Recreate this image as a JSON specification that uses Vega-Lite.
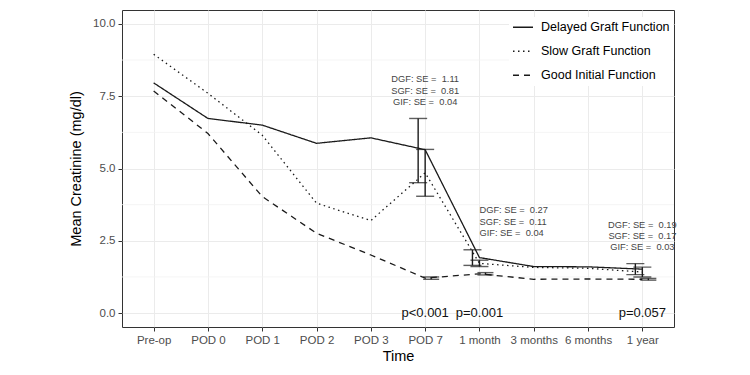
{
  "$schema": "https://vega.github.io/schema/vega-lite/v6.json",
  "width": 552,
  "height": 317,
  "autosize": "none",
  "padding": {"left": 122, "top": 10, "right": 76, "bottom": 48},
  "background": "white",
  "config": {
    "font": "Liberation Sans",
    "view": {"stroke": "#333333", "strokeWidth": 1},
    "axis": {
      "domain": false,
      "gridColor": "#ebebeb",
      "gridWidth": 1,
      "tickColor": "#333333",
      "tickSize": 4,
      "labelColor": "#4d4d4d",
      "labelFontSize": 11.5,
      "labelPadding": 3,
      "titleFontSize": 14.5,
      "titleFontWeight": "normal",
      "titleColor": "#000000"
    }
  },
  "datasets": {
    "means": [
      {"group": "Delayed Graft Function", "time": "Pre-op", "mean": 7.96},
      {"group": "Delayed Graft Function", "time": "POD 0", "mean": 6.73},
      {"group": "Delayed Graft Function", "time": "POD 1", "mean": 6.5},
      {"group": "Delayed Graft Function", "time": "POD 2", "mean": 5.87},
      {"group": "Delayed Graft Function", "time": "POD 3", "mean": 6.06},
      {"group": "Delayed Graft Function", "time": "POD 7", "mean": 5.65},
      {"group": "Delayed Graft Function", "time": "1 month", "mean": 1.92},
      {"group": "Delayed Graft Function", "time": "3 months", "mean": 1.61},
      {"group": "Delayed Graft Function", "time": "6 months", "mean": 1.6},
      {"group": "Delayed Graft Function", "time": "1 year", "mean": 1.52},
      {"group": "Slow Graft Function", "time": "Pre-op", "mean": 8.95},
      {"group": "Slow Graft Function", "time": "POD 0", "mean": 7.6},
      {"group": "Slow Graft Function", "time": "POD 1", "mean": 6.15},
      {"group": "Slow Graft Function", "time": "POD 2", "mean": 3.8},
      {"group": "Slow Graft Function", "time": "POD 3", "mean": 3.2},
      {"group": "Slow Graft Function", "time": "POD 7", "mean": 4.85},
      {"group": "Slow Graft Function", "time": "1 month", "mean": 1.72},
      {"group": "Slow Graft Function", "time": "3 months", "mean": 1.58},
      {"group": "Slow Graft Function", "time": "6 months", "mean": 1.55},
      {"group": "Slow Graft Function", "time": "1 year", "mean": 1.42},
      {"group": "Good Initial Function", "time": "Pre-op", "mean": 7.68},
      {"group": "Good Initial Function", "time": "POD 0", "mean": 6.21},
      {"group": "Good Initial Function", "time": "POD 1", "mean": 4.03},
      {"group": "Good Initial Function", "time": "POD 2", "mean": 2.76},
      {"group": "Good Initial Function", "time": "POD 3", "mean": 2.01},
      {"group": "Good Initial Function", "time": "POD 7", "mean": 1.21},
      {"group": "Good Initial Function", "time": "1 month", "mean": 1.36},
      {"group": "Good Initial Function", "time": "3 months", "mean": 1.17},
      {"group": "Good Initial Function", "time": "6 months", "mean": 1.18},
      {"group": "Good Initial Function", "time": "1 year", "mean": 1.17}
    ],
    "errs": [
      {"group": "DGF", "time": "POD 7", "lo": 4.51, "hi": 6.73},
      {"group": "SGF", "time": "POD 7", "lo": 4.04, "hi": 5.66},
      {"group": "GIF", "time": "POD 7", "lo": 1.17, "hi": 1.25},
      {"group": "DGF", "time": "1 month", "lo": 1.65, "hi": 2.19},
      {"group": "SGF", "time": "1 month", "lo": 1.61, "hi": 1.83},
      {"group": "GIF", "time": "1 month", "lo": 1.32, "hi": 1.4},
      {"group": "DGF", "time": "1 year", "lo": 1.33, "hi": 1.71},
      {"group": "SGF", "time": "1 year", "lo": 1.25, "hi": 1.59},
      {"group": "GIF", "time": "1 year", "lo": 1.14, "hi": 1.2}
    ],
    "se": [
      {"time": "POD 7", "y": 8.09, "label": "DGF: SE = \u00a01.11", "pos": "center"},
      {"time": "POD 7", "y": 7.69, "label": "SGF: SE = \u00a00.81", "pos": "center"},
      {"time": "POD 7", "y": 7.31, "label": "GIF: SE = \u00a00.04", "pos": "center"},
      {"time": "1 month", "y": 3.57, "label": "DGF: SE = \u00a00.27", "pos": "left"},
      {"time": "1 month", "y": 3.16, "label": "SGF: SE = \u00a00.11", "pos": "left"},
      {"time": "1 month", "y": 2.77, "label": "GIF: SE = \u00a00.04", "pos": "left"},
      {"time": "1 year", "y": 3.05, "label": "DGF: SE = \u00a00.19", "pos": "center"},
      {"time": "1 year", "y": 2.67, "label": "SGF: SE = \u00a00.17", "pos": "center"},
      {"time": "1 year", "y": 2.29, "label": "GIF: SE = \u00a00.03", "pos": "center"}
    ],
    "pvals": [
      {"time": "POD 7", "y": 0, "label": "p<0.001"},
      {"time": "1 month", "y": 0, "label": "p=0.001"},
      {"time": "1 year", "y": 0, "label": "p=0.057"}
    ],
    "minor": [
      {"y": 1.25}, {"y": 3.75}, {"y": 6.25}, {"y": 8.75}
    ]
  },
  "layer": [
    {
      "data": {"name": "minor"},
      "mark": {"type": "rule", "color": "#f3f3f3", "strokeWidth": 0.8},
      "encoding": {"y": {"field": "y", "type": "quantitative"}}
    },
    {
      "data": {"name": "means"},
      "mark": {"type": "line", "color": "#1a1a1a", "strokeWidth": 1.3},
      "encoding": {
        "x": {
          "field": "time", "type": "ordinal",
          "scale": {"type": "point", "padding": 0.583, "domain": ["Pre-op", "POD 0", "POD 1", "POD 2", "POD 3", "POD 7", "1 month", "3 months", "6 months", "1 year"]},
          "axis": {"title": "Time", "labelAngle": 0, "grid": true, "titlePadding": 4}
        },
        "y": {
          "field": "mean", "type": "quantitative",
          "scale": {"domain": [-0.48, 10.48], "nice": false, "zero": false},
          "axis": {"title": "Mean Creatinine (mg/dl)", "values": [0, 2.5, 5, 7.5, 10], "format": ".1f", "titlePadding": 9}
        },
        "strokeDash": {
          "field": "group", "type": "nominal",
          "scale": {"domain": ["Delayed Graft Function", "Slow Graft Function", "Good Initial Function"], "range": [[1, 0], [1.5, 3.5], [6, 5]]},
          "legend": {
            "title": null,
            "orient": "none",
            "legendX": 387,
            "legendY": 7,
            "fillColor": "white",
            "padding": 3,
            "symbolType": "stroke",
            "symbolSize": 400,
            "symbolStrokeColor": "#1a1a1a",
            "symbolStrokeWidth": 1.3,
            "labelFontSize": 12.5,
            "labelColor": "#000000",
            "labelOffset": 7,
            "clipHeight": 14.5,
            "rowPadding": 9
          }
        },
        "detail": {"field": "group"}
      }
    },
    {
      "data": {"name": "errs"},
      "transform": [{"filter": "datum.group === 'DGF'"}],
      "layer": [
        {"mark": {"type": "rule", "color": "#1a1a1a", "strokeWidth": 1.4, "xOffset": -7},
         "encoding": {"x": {"field": "time", "type": "ordinal"}, "y": {"field": "lo", "type": "quantitative"}, "y2": {"field": "hi"}}},
        {"mark": {"type": "tick", "color": "#1a1a1a", "thickness": 1.4, "size": 18, "orient": "horizontal", "xOffset": -7},
         "encoding": {"x": {"field": "time", "type": "ordinal"}, "y": {"field": "lo", "type": "quantitative"}}},
        {"mark": {"type": "tick", "color": "#1a1a1a", "thickness": 1.4, "size": 18, "orient": "horizontal", "xOffset": -7},
         "encoding": {"x": {"field": "time", "type": "ordinal"}, "y": {"field": "hi", "type": "quantitative"}}}
      ]
    },
    {
      "data": {"name": "errs"},
      "transform": [{"filter": "datum.group === 'SGF'"}],
      "layer": [
        {"mark": {"type": "rule", "color": "#1a1a1a", "strokeWidth": 1.4, "xOffset": 0},
         "encoding": {"x": {"field": "time", "type": "ordinal"}, "y": {"field": "lo", "type": "quantitative"}, "y2": {"field": "hi"}}},
        {"mark": {"type": "tick", "color": "#1a1a1a", "thickness": 1.4, "size": 18, "orient": "horizontal", "xOffset": 0},
         "encoding": {"x": {"field": "time", "type": "ordinal"}, "y": {"field": "lo", "type": "quantitative"}}},
        {"mark": {"type": "tick", "color": "#1a1a1a", "thickness": 1.4, "size": 18, "orient": "horizontal", "xOffset": 0},
         "encoding": {"x": {"field": "time", "type": "ordinal"}, "y": {"field": "hi", "type": "quantitative"}}}
      ]
    },
    {
      "data": {"name": "errs"},
      "transform": [{"filter": "datum.group === 'GIF'"}],
      "layer": [
        {"mark": {"type": "rule", "color": "#1a1a1a", "strokeWidth": 1.4, "xOffset": 6},
         "encoding": {"x": {"field": "time", "type": "ordinal"}, "y": {"field": "lo", "type": "quantitative"}, "y2": {"field": "hi"}}},
        {"mark": {"type": "tick", "color": "#1a1a1a", "thickness": 1.4, "size": 16, "orient": "horizontal", "xOffset": 6},
         "encoding": {"x": {"field": "time", "type": "ordinal"}, "y": {"field": "lo", "type": "quantitative"}}},
        {"mark": {"type": "tick", "color": "#1a1a1a", "thickness": 1.4, "size": 16, "orient": "horizontal", "xOffset": 6},
         "encoding": {"x": {"field": "time", "type": "ordinal"}, "y": {"field": "hi", "type": "quantitative"}}}
      ]
    },
    {
      "data": {"name": "se"},
      "transform": [{"filter": "datum.pos === 'center'"}],
      "mark": {"type": "text", "fontSize": 9.3, "color": "#444444", "align": "center", "baseline": "middle"},
      "encoding": {
        "x": {"field": "time", "type": "ordinal"},
        "y": {"field": "y", "type": "quantitative"},
        "text": {"field": "label"}
      }
    },
    {
      "data": {"name": "se"},
      "transform": [{"filter": "datum.pos === 'left'"}],
      "mark": {"type": "text", "fontSize": 9.3, "color": "#444444", "align": "left", "baseline": "middle"},
      "encoding": {
        "x": {"field": "time", "type": "ordinal"},
        "y": {"field": "y", "type": "quantitative"},
        "text": {"field": "label"}
      }
    },
    {
      "data": {"name": "pvals"},
      "mark": {"type": "text", "fontSize": 13, "color": "#111111", "align": "center", "baseline": "middle"},
      "encoding": {
        "x": {"field": "time", "type": "ordinal"},
        "y": {"field": "y", "type": "quantitative"},
        "text": {"field": "label"}
      }
    }
  ]
}
